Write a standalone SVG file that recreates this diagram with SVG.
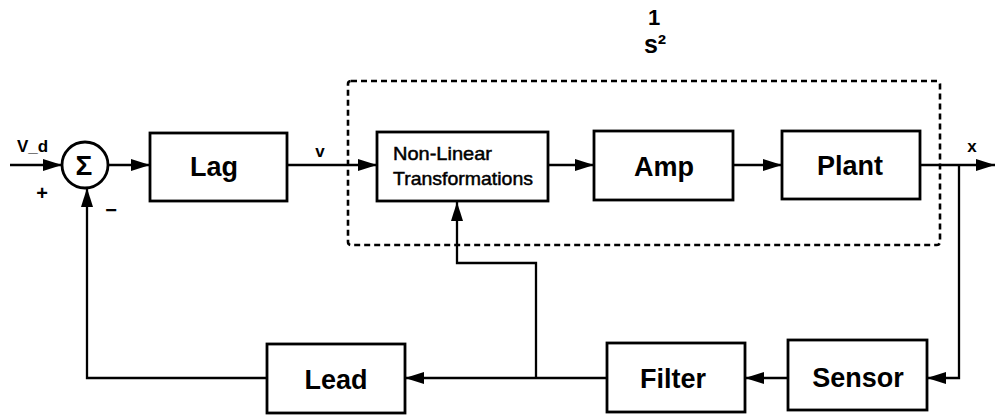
<svg xmlns="http://www.w3.org/2000/svg" width="995" height="418" viewBox="0 0 995 418">
<style>
.box{fill:#fff;stroke:#000;stroke-width:2.8}
.ln{fill:none;stroke:#000;stroke-width:2.3}
.big{font-family:"Liberation Sans",Arial,sans-serif;font-weight:bold;font-size:27px;text-anchor:middle}
.sm{font-family:"Liberation Sans",Arial,sans-serif;font-size:19px;stroke:#000;stroke-width:0.5}
.lbl{font-family:"Liberation Sans",Arial,sans-serif;font-weight:bold;font-size:17px;text-anchor:middle}
</style>
<defs>
<marker id="ah" markerUnits="userSpaceOnUse" markerWidth="20" markerHeight="14" refX="19" refY="7" orient="auto">
<path d="M0,1 L19,7 L0,13 z" fill="#000"/>
</marker>
</defs>
<rect width="995" height="418" fill="#fff"/>
<g id="subsystem">
<rect x="348" y="81" width="592" height="164" rx="3" fill="none" stroke="#000" stroke-width="2.6" stroke-dasharray="6 4"/>
<text class="lbl" x="654" y="25" style="font-size:22px">1</text>
<text class="lbl" x="655" y="53" style="font-size:25px">s²</text>
</g>
<g id="connectors">
<path class="ln" d="M10,165 H62" marker-end="url(#ah)"/>
<path class="ln" d="M108,165 H150" marker-end="url(#ah)"/>
<path class="ln" d="M287,165 H377" marker-end="url(#ah)"/>
<path class="ln" d="M548,165 H594" marker-end="url(#ah)"/>
<path class="ln" d="M733,165 H782" marker-end="url(#ah)"/>
<path class="ln" d="M920,165 H995" marker-end="url(#ah)"/>
<path class="ln" d="M959,165 V378 H927" marker-end="url(#ah)"/>
<path class="ln" d="M788,378 H745" marker-end="url(#ah)"/>
<path class="ln" d="M607,378 H405" marker-end="url(#ah)"/>
<path class="ln" d="M536,378 V263 H457 V202" marker-end="url(#ah)"/>
<path class="ln" d="M267,378 H87 V188" marker-end="url(#ah)"/>
</g>
<g id="sum">
<circle cx="85" cy="165" r="23" fill="#fff" stroke="#000" stroke-width="2.8"/>
<text class="lbl" x="84" y="175" style="font-size:28px">Σ</text>
</g>
<g id="labels">
<text class="lbl" x="17" y="152" style="text-anchor:start">V_d</text>
<text class="lbl" x="42" y="200" style="font-size:20px">+</text>
<text class="lbl" x="111" y="217" style="font-size:20px">−</text>
<text class="lbl" x="320" y="157">v</text>
<text class="lbl" x="972" y="152">x</text>
</g>
<g id="lag">
<rect class="box" x="150" y="133" width="137" height="68"/>
<text class="big" x="214" y="176">Lag</text>
</g>
<g id="nonlinear">
<rect class="box" x="377" y="132" width="171" height="69"/>
<text class="sm" x="393" y="160" textLength="99" lengthAdjust="spacingAndGlyphs">Non-Linear</text>
<text class="sm" x="393" y="185" textLength="140" lengthAdjust="spacingAndGlyphs">Transformations</text>
</g>
<g id="amp">
<rect class="box" x="594" y="131" width="139" height="69"/>
<text class="big" x="664" y="176">Amp</text>
</g>
<g id="plant">
<rect class="box" x="782" y="131" width="138" height="68"/>
<text class="big" x="850" y="175">Plant</text>
</g>
<g id="sensor">
<rect class="box" x="788" y="340" width="139" height="70"/>
<text class="big" x="858" y="387">Sensor</text>
</g>
<g id="filter">
<rect class="box" x="607" y="343" width="138" height="69"/>
<text class="big" x="673" y="388">Filter</text>
</g>
<g id="lead">
<rect class="box" x="267" y="344" width="138" height="69"/>
<text class="big" x="336" y="389">Lead</text>
</g>
</svg>
